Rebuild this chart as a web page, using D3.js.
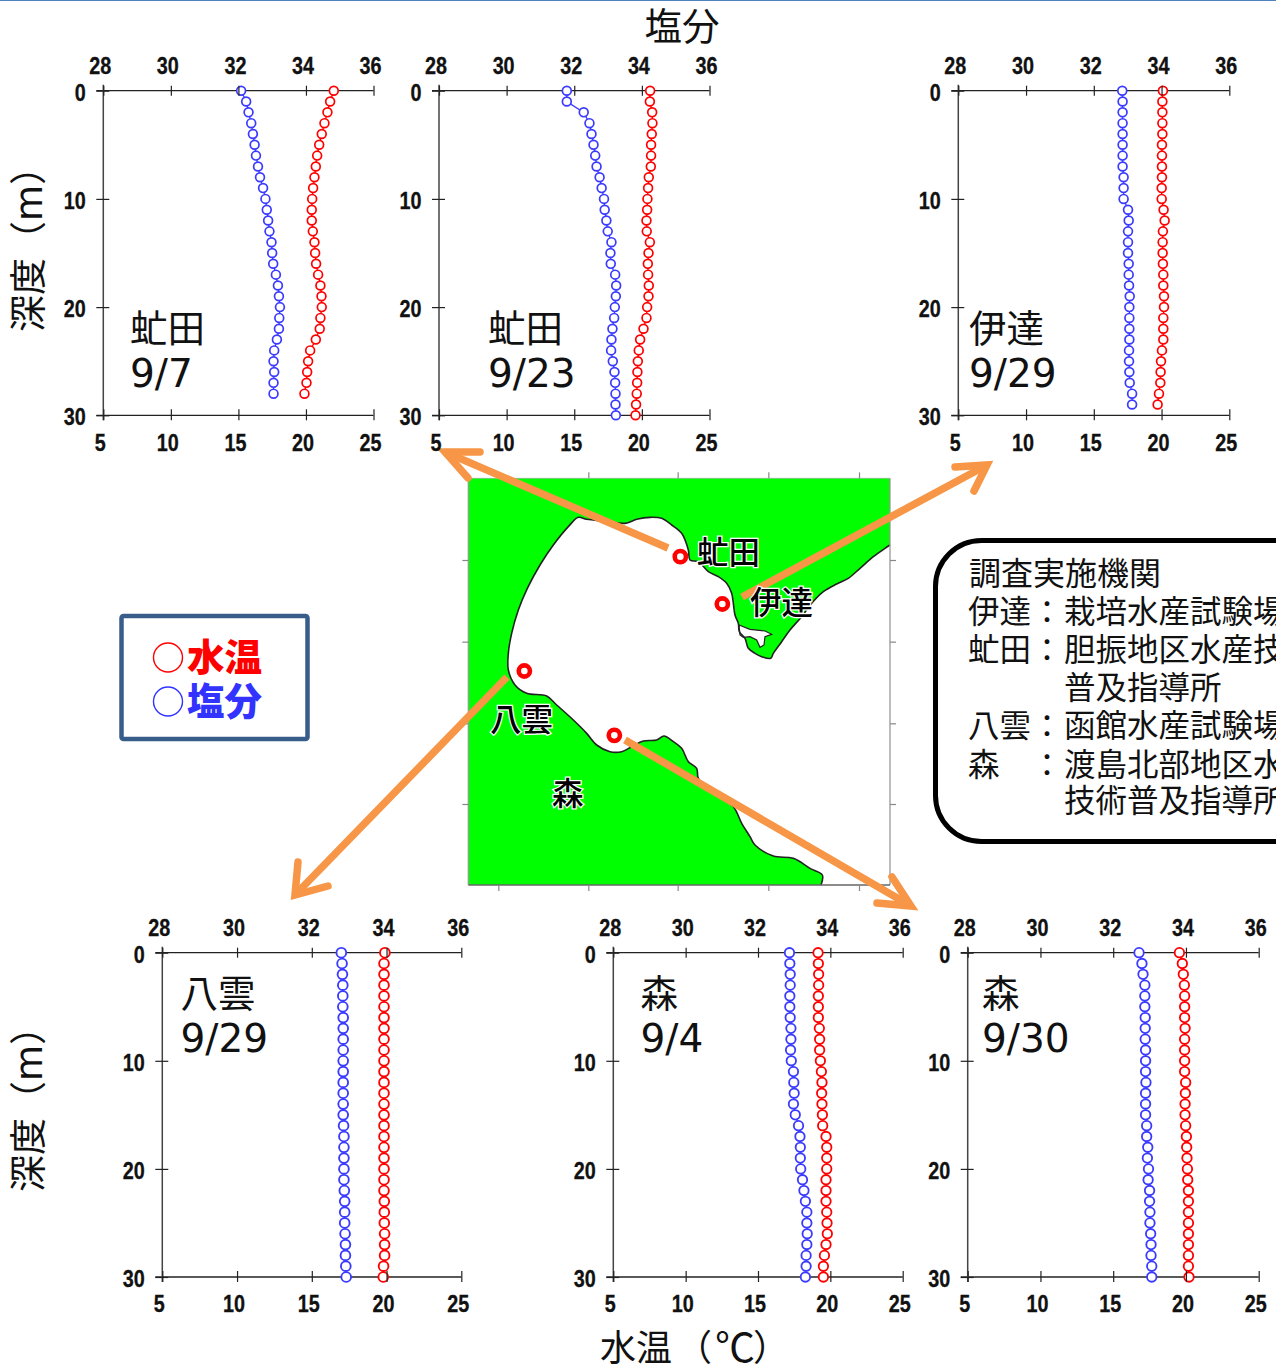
<!DOCTYPE html>
<html lang="ja">
<head>
<meta charset="utf-8">
<script src="https://cdnjs.cloudflare.com/ajax/libs/d3/7.8.5/d3.min.js"></script>
<style>
html,body{margin:0;padding:0;background:#fff;overflow:hidden}
svg{display:block}
.cjk{font-family:"Noto Sans CJK JP",sans-serif;fill:#111}
.tick text{font-family:"Liberation Sans",sans-serif;font-weight:700;font-size:23.5px;fill:#111;stroke:#111;stroke-width:0.3}
.tick line{stroke:#222;stroke-width:1.2}
</style>
</head>
<body>
<svg id="c" width="1276" height="1364" viewBox="0 0 1276 1364"></svg>
<script>
const tempTicks=[5,10,15,20,25];
const salTicks=[28,30,32,34,36];
const depthTicks=[0,10,20,30];

const tempAbuta0907=[22.06,21.79,21.59,21.37,21.17,20.98,20.83,20.73,20.63,20.53,20.46,20.43,20.43,20.51,20.63,20.68,20.75,20.90,21.07,21.15,21.17,21.07,21.02,20.73,20.31,20.16,20.09,20.04,19.89];
const salAbuta0907=[32.08,32.23,32.30,32.38,32.43,32.48,32.52,32.58,32.64,32.73,32.80,32.84,32.88,32.92,32.98,33.00,33.03,33.11,33.17,33.20,33.23,33.21,33.20,33.14,33.06,33.04,33.06,33.04,33.04];
const tempAbuta0923=[20.61,20.59,20.76,20.78,20.73,20.68,20.68,20.66,20.51,20.46,20.41,20.39,20.34,20.36,20.59,20.49,20.44,20.46,20.51,20.49,20.39,20.34,20.12,19.87,19.77,19.70,19.67,19.65,19.62,19.57,19.53];
const salAbuta0923=[31.78,31.78,32.28,32.45,32.51,32.57,32.62,32.66,32.75,32.81,32.88,32.90,32.95,32.99,33.10,33.07,33.08,33.21,33.24,33.23,33.20,33.18,33.13,33.10,33.09,33.14,33.19,33.21,33.22,33.22,33.23];
const tempDate0929=[20.10,20.06,20.06,20.06,20.06,20.03,20.03,20.03,20.03,20.01,20.01,20.15,20.23,20.10,20.08,20.08,20.10,20.13,20.13,20.18,20.18,20.13,20.13,20.13,20.03,19.96,19.93,19.91,19.81,19.71];
const salDate0929=[32.84,32.85,32.85,32.85,32.85,32.85,32.85,32.85,32.88,32.88,32.88,33.01,33.03,33.01,33.01,33.01,33.03,33.03,33.04,33.06,33.05,33.05,33.05,33.05,33.04,33.04,33.05,33.06,33.13,33.13];
const tempYakumo0929=[19.89,19.83,19.83,19.83,19.83,19.83,19.83,19.83,19.83,19.83,19.83,19.83,19.83,19.83,19.83,19.83,19.83,19.83,19.83,19.83,19.83,19.83,19.83,19.85,19.85,19.85,19.87,19.87,19.87,19.80,19.78];
const salYakumo0929=[32.79,32.81,32.82,32.83,32.83,32.83,32.84,32.84,32.84,32.84,32.84,32.84,32.84,32.84,32.84,32.84,32.85,32.86,32.86,32.86,32.86,32.86,32.87,32.88,32.88,32.88,32.89,32.90,32.90,32.91,32.92];
const tempMori0904=[19.15,19.17,19.19,19.19,19.17,19.17,19.17,19.24,19.26,19.26,19.31,19.38,19.42,19.40,19.42,19.45,19.47,19.70,19.75,19.75,19.75,19.70,19.70,19.70,19.75,19.77,19.79,19.70,19.59,19.52,19.52];
const salMori0904=[32.87,32.88,32.89,32.89,32.88,32.88,32.89,32.91,32.91,32.90,32.92,32.98,32.99,33.00,32.98,33.03,33.12,33.16,33.17,33.17,33.18,33.23,33.27,33.31,33.35,33.35,33.36,33.35,33.33,33.33,33.31];
const tempMori0930=[19.55,19.75,19.82,19.89,19.91,19.91,19.91,19.94,19.91,19.91,19.91,19.91,19.98,19.96,19.94,19.94,19.98,20.03,20.05,20.07,20.10,20.12,20.17,20.17,20.17,20.17,20.17,20.17,20.17,20.17,20.21];
const salMori0930=[32.71,32.79,32.82,32.87,32.87,32.87,32.88,32.88,32.88,32.89,32.89,32.89,32.90,32.89,32.89,32.89,32.92,32.92,32.95,32.94,32.97,32.96,33.00,33.00,33.01,33.01,33.03,33.04,33.04,33.06,33.06];

const panelNames=["虻田","虻田","伊達","八雲","森","森"];
const panelDates=["9/7","9/23","9/29","9/29","9/4","9/30"];

const infoLabels=["伊達","虻田","","八雲","森",""];
const infoColons=["：","：","","：","：",""];
const infoValues=["栽培水産試験場","胆振地区水産技術","普及指導所","函館水産試験場","渡島北部地区水産","技術普及指導所"];

const coastX=[1350,1335,1300,1260,1225,1190,1150,1115,1085,1050,1025,1000,992,965,945,925,915,898,895,885,880,875,860,835,805,775,750,745,725,695,665,630,590,555,500,440,415,385,340,300,262,235,215,205,205,225,260,320,350,400,440,470,510,545,575,610,650,672,700,725,745,770,775,810,880,905,930,945,1000,1060,1110,1147,1143];
const coastY=[315,325,350,385,415,432,455,490,530,570,605,640,655,650,640,625,595,575,550,525,490,460,430,410,395,365,360,330,280,255,235,232,238,250,244,238,232,260,315,375,445,510,580,640,690,735,760,768,795,840,880,915,935,935,920,903,900,888,905,925,965,985,1015,1050,1100,1150,1190,1215,1248,1255,1285,1305,1335];
const inletX=[897,930,975,995,975,972,960,950,930,910,900];
const inletY=[555,568,573,583,590,615,622,600,590,592,585];
const stationX=[721,847,253,523];
const stationY=[350,492,693,886];
const mapTickX=[175,445,713,985,1257];
const mapTickY=[360,605,850,1092];

const svg=d3.select("#c");

// thin rule at the top of the page
svg.append("rect").attr("width",1276).attr("height",1).attr("fill","#4f81bd");

function fitTick(sel){
  sel.each(function(d){
    const t=String(d);
    d3.select(this).attr("textLength",t.length*11).attr("lengthAdjust","spacingAndGlyphs");
  });
}

function drawPanel(p){
  const x=d3.scaleLinear().domain([5,25]).range([p.l,p.r]);
  const s=d3.scaleLinear().domain([28,36]).range([p.l,p.r]);
  const y=d3.scaleLinear().domain([0,30]).range([p.t,p.b]);
  const g=svg.append("g");
  const k=(p.r-p.l)/270;

  // base lines under the marks
  g.append("line").attr("x1",p.l-7).attr("x2",p.r).attr("y1",p.t).attr("y2",p.t).attr("stroke","#222").attr("stroke-width",1.3);
  g.append("line").attr("x1",p.l-7).attr("x2",p.r).attr("y1",p.b).attr("y2",p.b).attr("stroke","#222").attr("stroke-width",1.3);
  g.append("line").attr("x1",p.l).attr("x2",p.l).attr("y1",p.t-6).attr("y2",p.b+5).attr("stroke","#444").attr("stroke-width",1.5);

  const line=(xs,key)=>d3.line().x(d=>xs(d)).y((d,i)=>y(i))(key);
  [[p.sal,s,"#3b3bff"],[p.temp,x,"#ff0000"]].forEach(([vals,sc,col])=>{
    g.append("path").attr("d",line(sc,vals)).attr("fill","none").attr("stroke",col).attr("stroke-width",1.3);
    g.selectAll(null).data(vals).enter().append("circle")
      .attr("cx",d=>sc(d)).attr("cy",(d,i)=>y(i)).attr("r",4.4*k)
      .attr("fill","#fff").attr("stroke",col).attr("stroke-width",1.7*k);
  });

  // ticks and labels above the marks
  const top=g.append("g").attr("transform",`translate(0,${p.t})`)
    .call(d3.axisTop(s).tickValues(salTicks).tickSize(5).tickFormat(d3.format("d")));
  const bot=g.append("g").attr("transform",`translate(0,${p.b})`)
    .call(d3.axisBottom(x).tickValues(tempTicks).tickSize(5).tickFormat(d3.format("d")));
  const left=g.append("g").attr("transform",`translate(${p.l},0)`)
    .call(d3.axisLeft(y).tickValues(depthTicks).tickSize(7).tickFormat(d3.format("d")));
  [top,bot,left].forEach(a=>{a.select(".domain").remove();a.attr("font-family",null).attr("font-size",null);});
  top.selectAll(".tick line").attr("y1",5).attr("y2",-5);
  bot.selectAll(".tick line").attr("y1",-6).attr("y2",5);
  left.selectAll(".tick line").attr("x1",6).attr("x2",-7);
  top.selectAll(".tick text").attr("x",-3.5).attr("y",-25).attr("dy","0.36em").attr("text-anchor","middle").call(fitTick);
  bot.selectAll(".tick text").attr("x",-3.5).attr("y",27).attr("dy","0.36em").attr("text-anchor","middle").call(fitTick);
  left.selectAll(".tick text").attr("x",-17.5).attr("y",1).attr("dy","0.36em").attr("text-anchor","end").call(fitTick);

  // station and date
  g.append("text").attr("class","cjk").attr("x",p.tx-1).attr("y",p.ty).attr("font-size",37.5).attr("dy","0.36em").text(p.name);
  g.append("text").attr("x",p.tx-1).attr("y",p.ty+45).attr("font-size",39).attr("dy","0.36em")
    .attr("font-family","'DejaVu Sans',sans-serif").attr("fill","#111").text(p.date);
}

// map
const mapX=d3.scaleLinear().domain([0,1440]).range([440,920]);
const mapY=d3.scaleLinear().domain([0,1440]).range([440,920]);
const mapL=85,mapR=1350,mapT=115,mapB=1335;
const m=svg.append("g");
m.append("rect").attr("x",mapX(mapL)).attr("y",mapY(mapT)).attr("width",mapX(mapR)-mapX(mapL)).attr("height",mapY(mapB)-mapY(mapT)).attr("fill","#00ff00");
const coastPts=coastX.map((v,i)=>[mapX(v),mapY(coastY[i])]);
const coastPath=d3.line().curve(d3.curveCatmullRom.alpha(0.5))(coastPts);
m.append("path").attr("d",coastPath+`L${mapX(mapR)},${mapY(mapB)}Z`).attr("fill","#fff");
const inletPts=inletX.map((v,i)=>[mapX(v),mapY(inletY[i])]);
m.append("path").attr("d",d3.line()(inletPts)+"Z").attr("fill","#fff").attr("stroke","#222").attr("stroke-width",1.2);
m.append("path").attr("d",coastPath).attr("fill","none").attr("stroke","#222").attr("stroke-width",1.6).attr("stroke-linejoin","round");
const frame=m.append("g");
[[mapL,mapT,mapL,mapB],[mapR,mapT,mapR,mapB],[mapL,mapB,mapR,mapB],[mapL,mapT,mapR,mapT]].forEach((f,i)=>{
  frame.append("line").attr("x1",mapX(f[0])).attr("y1",mapY(f[1])).attr("x2",mapX(f[2])).attr("y2",mapY(f[3]))
   .attr("stroke",i===2?"#666":"#999").attr("stroke-width",i===3?0.6:1.3);
});
const mapAxes=[
 [d3.axisBottom(mapX).tickValues(mapTickX),`translate(0,${mapY(mapB)})`],
 [d3.axisTop(mapX).tickValues(mapTickX),`translate(0,${mapY(mapT)})`],
 [d3.axisLeft(mapY).tickValues(mapTickY),`translate(${mapX(mapL)},0)`],
 [d3.axisRight(mapY).tickValues(mapTickY),`translate(${mapX(mapR)},0)`]
];
mapAxes.forEach(([a,t])=>{
  const ax=frame.append("g").attr("transform",t).call(a.tickSize(6).tickFormat(""));
  ax.select(".domain").remove();
  ax.selectAll(".tick line").style("stroke","#888").style("stroke-width",1.2);
});

// arrows
const arrowColor="#f79646";
const arrows=[
 {from:[668,548],tip:[445,452],b1:[480,452],b2:[468,478]},
 {from:[742,597],tip:[987,465],b1:[955,467],b2:[974,491]},
 {from:[507,677],tip:[295,895],b1:[298,862],b2:[328,886]},
 {from:[625,740],tip:[911,906],b1:[892,877],b2:[877,903]}
];
arrows.forEach(a=>{
  m.append("line").attr("x1",a.from[0]).attr("y1",a.from[1]).attr("x2",a.tip[0]).attr("y2",a.tip[1])
    .attr("stroke",arrowColor).attr("stroke-width",7.5);
  m.append("path").attr("d",d3.line()([a.b1,a.tip,a.b2])).attr("fill","none").attr("stroke",arrowColor)
    .attr("stroke-width",7.5).attr("stroke-linecap","round").attr("stroke-linejoin","miter");
});
m.selectAll(null).data(stationX).enter().append("circle")
  .attr("cx",d=>mapX(d)).attr("cy",(d,i)=>mapY(stationY[i])).attr("r",5.6)
  .attr("fill","#fff").attr("stroke","#ff0000").attr("stroke-width",4.6);
[["虻田",697,553],["伊達",750,603],["八雲",490,720],["森",552,794]].forEach(t=>{
  m.append("text").attr("class","cjk").attr("x",t[1]).attr("y",t[2]).attr("dy","0.36em").attr("font-size",31.5).attr("font-weight",500)
   .attr("stroke","#fff").attr("stroke-width",2.5).attr("paint-order","stroke").style("fill","#000").text(t[0]);
});

const panels=[
 {temp:tempAbuta0907,sal:salAbuta0907,l:103.3,r:373.5,t:90.7,b:415.3,tx:131,ty:328},
 {temp:tempAbuta0923,sal:salAbuta0923,l:439,r:709.5,t:90.7,b:415.3,tx:489,ty:328},
 {temp:tempDate0929,sal:salDate0929,l:958.3,r:1229.3,t:90.7,b:415.3,tx:970,ty:328},
 {temp:tempYakumo0929,sal:salYakumo0929,l:162.3,r:461.3,t:952.7,b:1277,tx:181.5,ty:993},
 {temp:tempMori0904,sal:salMori0904,l:613.3,r:902.7,t:952.7,b:1277,tx:641.5,ty:993},
 {temp:tempMori0930,sal:salMori0930,l:967.7,r:1258.7,t:952.7,b:1277,tx:983,ty:993}
];
panels.forEach((p,i)=>{p.name=panelNames[i];p.date=panelDates[i];drawPanel(p);});

// axis titles
svg.append("text").attr("class","cjk").attr("x",682).attr("y",26).attr("dy","0.36em").attr("text-anchor","middle").attr("font-size",37.5).text("塩分");
[["水温",600,36],["（",676,36],["℃",715,40],["）",753,36]].forEach(t=>{
  svg.append("text").attr("class","cjk").attr("x",t[1]).attr("y",1348).attr("dy","0.36em").attr("font-size",t[2]).text(t[0]);
});
[240,1100].forEach(cy=>{
  const t=svg.append("text").attr("class","cjk").attr("transform",`translate(29,${cy}) rotate(-90)`).attr("dy","0.36em")
   .attr("text-anchor","middle").attr("font-size",37);
  t.append("tspan").text("深度（");
  t.append("tspan").attr("font-family","'DejaVu Sans',sans-serif").text("m");
  t.append("tspan").text("）");
});

// legend
svg.append("rect").attr("x",121.5).attr("y",616).attr("width",186).attr("height",123).attr("rx",2)
  .attr("fill","#fff").attr("stroke","#385d8a").attr("stroke-width",4.5);
[["水温","#ff0000",657.5],["塩分","#3333ff",701.5]].forEach(l=>{
  svg.append("circle").attr("cx",168).attr("cy",l[2]).attr("r",14.5).attr("fill","none").attr("stroke",l[1]).attr("stroke-width",1.4);
  svg.append("text").attr("x",187).attr("y",l[2]).attr("dy","0.36em").attr("font-size",37.5).attr("font-weight",900)
   .attr("font-family","'Noto Sans CJK JP',sans-serif").attr("fill",l[1]).text(l[0]);
});

// organisations box
svg.append("rect").attr("x",935.5).attr("y",540.5).attr("width",500).attr("height",301).attr("rx",46)
  .attr("fill","#fff").attr("stroke","#000").attr("stroke-width",5);
const infoY=[612,650,688,726,765,801];
svg.append("text").attr("class","cjk").attr("x",969).attr("y",573).attr("dy","0.36em").attr("font-size",32).text("調査実施機関");
infoValues.forEach((v,i)=>{
  svg.append("text").attr("class","cjk").attr("x",968).attr("y",infoY[i]).attr("dy","0.36em").attr("font-size",31.5).text(infoLabels[i]);
  svg.append("text").attr("class","cjk").attr("x",1047).attr("y",infoY[i]).attr("dy","0.36em").attr("text-anchor","middle").attr("font-size",31).text(infoColons[i]);
  svg.append("text").attr("class","cjk").attr("x",1064).attr("y",infoY[i]).attr("dy","0.36em").attr("font-size",31.5).text(v);
});
</script>
</body>
</html>
